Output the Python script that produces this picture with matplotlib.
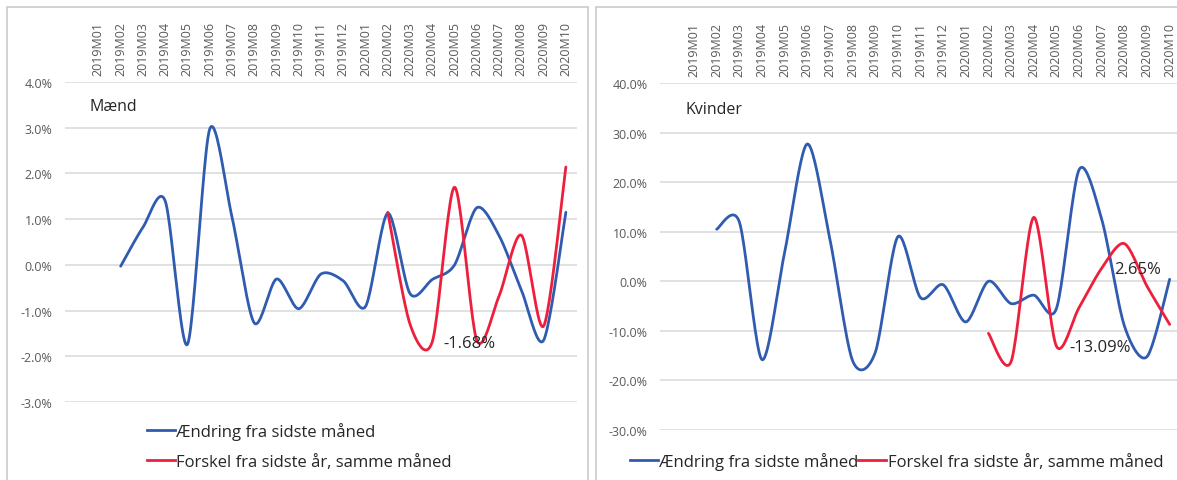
import matplotlib.pyplot as plt
import numpy as np
from matplotlib.patches import Rectangle
from matplotlib.lines import Line2D

plt.rcParams['font.family'] = ['Open Sans', 'DejaVu Sans']

months = ["2019M01", "2019M02", "2019M03", "2019M04", "2019M05", "2019M06",
          "2019M07", "2019M08", "2019M09", "2019M10", "2019M11", "2019M12",
          "2020M01", "2020M02", "2020M03", "2020M04", "2020M05", "2020M06",
          "2020M07", "2020M08", "2020M09", "2020M10"]

# Mænd, pct.
maend_month = [None, -0.03, 0.82, 1.40, -1.74, 2.97, 1.05, -1.27, -0.31, -0.96, -0.20,
               -0.35, -0.91, 1.13, -0.63, -0.32, 0.00, 1.25, 0.64, -0.55, -1.65, 1.15]
maend_year = [None] * 13 + [1.15, -1.30, -1.68, 1.70, -1.65, -0.68, 0.65, -1.34, 2.14]

# Kvinder, pct.
kvinder_month = [None, 10.5, 12.0, -15.8, 5.8, 27.7, 8.5, -16.0, -14.4, 9.0, -3.3,
                 -0.7, -8.2, 0.0, -4.5, -2.8, -5.5, 22.5, 12.5, -9.0, -15.2, 0.4]
kvinder_year = [None] * 13 + [-10.5, -16.2, 12.9, -13.09, -5.3, 2.65, 7.6, -1.0, -8.7]

legend_labels = ["Ændring fra sidste måned", "Forskel fra sidste år, samme måned"]

BLUE = "#2F5BB0"
RED = "#EE1F3D"
GRID = "#D9D9D9"
TXT = "#595959"

W, H = 1177, 481


def smooth(values, k=7.0, steps=24):
    """Excel-like smoothed line (Catmull-Rom as cubic Bezier)."""
    pts = [(i, v) for i, v in enumerate(values) if v is not None]
    x = np.array([p[0] for p in pts], float)
    y = np.array([p[1] for p in pts], float)
    n = len(x)
    out_x, out_y = [x[0]], [y[0]]
    t = np.linspace(0, 1, steps)[1:]
    for i in range(n - 1):
        a, d = max(i - 1, 0), min(i + 2, n - 1)
        c1x, c1y = x[i] + (x[i + 1] - x[a]) / k, y[i] + (y[i + 1] - y[a]) / k
        c2x, c2y = x[i + 1] - (x[d] - x[i]) / k, y[i + 1] - (y[d] - y[i]) / k
        out_x.extend((1 - t) ** 3 * x[i] + 3 * (1 - t) ** 2 * t * c1x
                     + 3 * (1 - t) * t ** 2 * c2x + t ** 3 * x[i + 1])
        out_y.extend((1 - t) ** 3 * y[i] + 3 * (1 - t) ** 2 * t * c1y
                     + 3 * (1 - t) * t ** 2 * c2y + t ** 3 * y[i + 1])
    return out_x, out_y


def px_rect(left, top, right, bottom):
    return [left / W, 1 - bottom / H, (right - left) / W, (bottom - top) / H]


def draw_panel(ax, blue, red, ylim, step, name, labels):
    ax.plot(*smooth(blue), color=BLUE, lw=2.0, solid_capstyle="round", zorder=3)
    ax.plot(*smooth(red), color=RED, lw=2.0, solid_capstyle="round", zorder=3)
    ax.set_xlim(-1.5, 21.5)
    ax.set_ylim(*ylim)
    ticks = np.arange(ylim[0], ylim[1] + step / 2, step)
    ax.set_yticks(ticks)
    ax.set_yticklabels([f"{v:.1f}%" for v in ticks])
    ax.yaxis.grid(True, color=GRID, lw=1.1)
    ax.set_axisbelow(True)
    ax.xaxis.tick_top()
    ax.set_xticks(range(len(months)))
    ax.set_xticklabels(months, rotation=90)
    ax.tick_params(axis="both", length=0, colors=TXT, labelsize=9)
    ax.tick_params(axis="y", pad=9)
    ax.tick_params(axis="x", pad=5)
    for s in ax.spines.values():
        s.set_visible(False)
    ax.patch.set_alpha(0)
    ax.text(0.048, 0.925, name, transform=ax.transAxes, fontsize=11.5,
            color="#262626", va="center", ha="left")
    for idx, offset in labels:
        ax.annotate(f"{red[idx]:.2f}%", (idx, red[idx]), xytext=(offset, -1),
                    textcoords="offset pixels", fontsize=12, color="#262626",
                    va="center", ha="left", zorder=4)


fig = plt.figure(figsize=(W / 100, H / 100), dpi=100)

# panel frames
for left, right in [(7, 588), (596, 1185)]:
    fig.patches.append(Rectangle((left / W, -0.05), (right - left) / W, 1 - 8 / H + 0.05,
                                 transform=fig.transFigure, fill=False,
                                 edgecolor="#CFCFCF", lw=1.3))

ax1 = fig.add_axes(px_rect(65, 83, 577, 403))
draw_panel(ax1, maend_month, maend_year, (-3, 4), 1, "Mænd", [(15, 11)])

ax2 = fig.add_axes(px_rect(660, 84, 1181, 431))
draw_panel(ax2, kvinder_month, kvinder_year, (-30, 40), 10, "Kvinder", [(16, 13), (18, 12)])

handles = [Line2D([], [], color=BLUE, lw=2.0), Line2D([], [], color=RED, lw=2.0)]
fig.legend(handles, legend_labels, loc="upper left", bbox_to_anchor=(147 / W, 1 - 423 / H),
           frameon=False, fontsize=12, handlelength=1.65, handletextpad=0.1,
           labelspacing=0.85, borderpad=0, borderaxespad=0, labelcolor="#262626")
fig.legend(handles, legend_labels, loc="upper left", bbox_to_anchor=(630 / W, 1 - 453 / H),
           frameon=False, fontsize=12, handlelength=1.65, handletextpad=0.1, ncol=2,
           columnspacing=0.0, borderpad=0, borderaxespad=0, labelcolor="#262626")

fig.savefig("out.png", dpi=100)
